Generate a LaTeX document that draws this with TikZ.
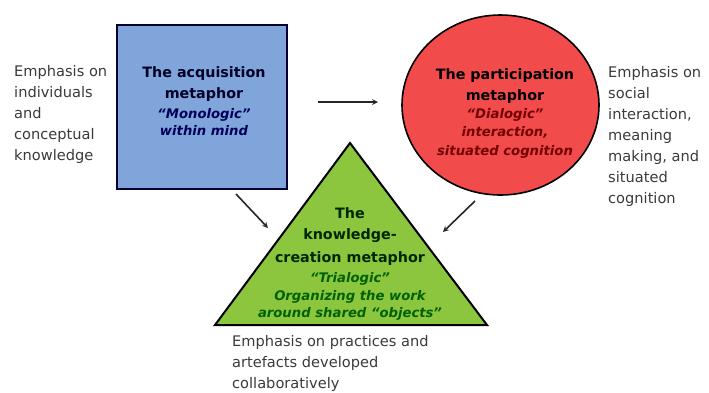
\documentclass[tikz,border=0pt]{standalone}
\usepackage{fontspec}
\setmainfont{DejaVu Sans}
\usepackage{xcolor}
\usetikzlibrary{shapes.geometric, arrows, positioning, calc}

\definecolor{acqblue}{HTML}{7FA5DB}
\definecolor{parred}{HTML}{F24B4B}
\definecolor{kcgreen}{HTML}{8CC63F}
\definecolor{notegray}{HTML}{3A3A3A}

% italic sub-line inside a metaphor shape
\newcommand{\subline}[2]{{\fontsize{13.2}{18}\selectfont\itshape\color{#1}#2}}

\begin{document}
\begin{tikzpicture}[x=1pt, y=-1pt,
    note/.style={align=left, anchor=north west, text=notegray, font=\fontsize{14.6}{21}\selectfont, inner sep=0pt},
    title/.style={align=center, font=\fontsize{14.3}{21}\selectfont\bfseries},
    arr/.style={->, >=stealth, line width=1.6pt, black!85}]
    \useasboundingbox (0,0) rectangle (709,392);

    % the three metaphors
    \node[draw=black!80!blue, line width=2pt, fill=acqblue, minimum width=170, minimum height=164] (acq) at (202,107) {};
    \node[draw=black, line width=1.6pt, fill=parred, ellipse, minimum width=197, minimum height=180] (par) at (500.5,105) {};
    \coordinate (top) at (350,143);
    \coordinate (bl) at (215,325);
    \coordinate (br) at (487,325);
    \filldraw[draw=black, line width=2pt, fill=kcgreen] (top) -- (br) -- (bl) -- cycle;

    \node[title, text=black!85!blue] (acqtxt) at (204,101.5)
        {The acquisition\\metaphor\\[-1pt]\subline{black!65!blue}{``Monologic''}\\[-4pt]\subline{black!65!blue}{within mind}};
    \node[title, text=black] (partxt) at (505,113)
        {The participation\\metaphor\\[-3pt]\subline{black!55!red}{``Dialogic''}\\[-3pt]\subline{black!55!red}{interaction,}\\[-2pt]\subline{black!55!red}{situated cognition}};
    \node[title, text=black!85!green] (kctxt) at (350,263.5)
        {The\\knowledge-\\[2pt]creation metaphor\\[-1pt]\subline{black!62!green}{``Trialogic''}\\[-3pt]\subline{black!62!green}{Organizing the work}\\[-4pt]\subline{black!62!green}{around shared ``objects''}};

    % emphasis notes
    \node[note] (indiv) at (14,65) {Emphasis on\\individuals\\and\\conceptual\\knowledge};
    \node[note] (social) at (608,66) {Emphasis on\\social\\interaction,\\meaning\\making, and\\situated\\cognition};
    \node[note] (prac) at (232,335) {Emphasis on practices and\\artefacts developed\\collaboratively};

    % arrows
    \coordinate (h1) at (318,102);
    \coordinate (h2) at (378,102);
    \coordinate (l1) at (236,194);
    \coordinate (l2) at (268,228);
    \coordinate (r1) at (475,201);
    \coordinate (r2) at (443,232);
    \draw[arr] (h1) -- (h2);
    \draw[arr] (l1) -- (l2);
    \draw[arr] (r1) -- (r2);
\end{tikzpicture}
\end{document}
